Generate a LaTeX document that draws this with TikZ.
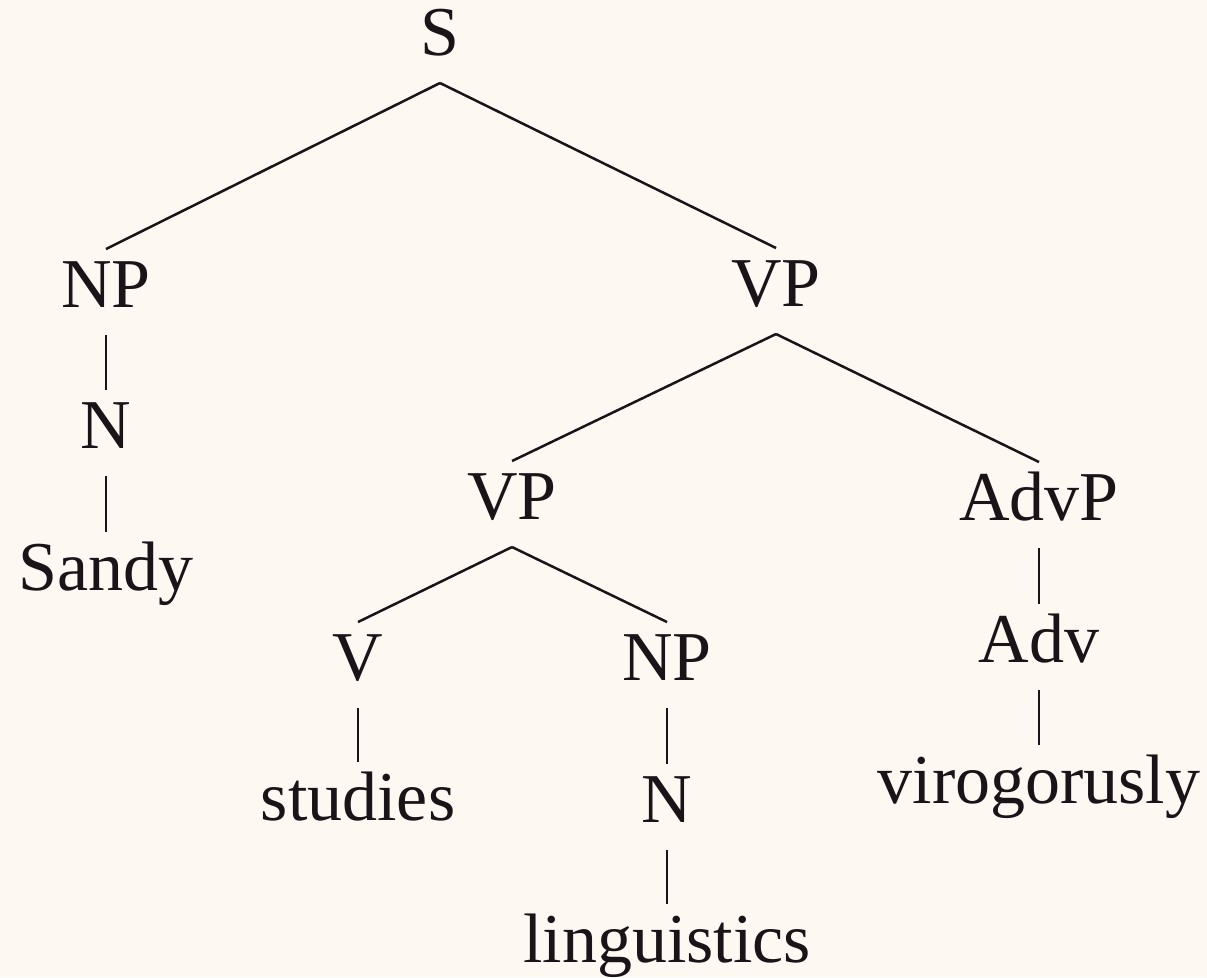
\documentclass[tikz,border=0pt]{standalone}
\IfFileExists{pplr8t.tfm}{%
  \usepackage[T1]{fontenc}
  \renewcommand{\rmdefault}{ppl}
  \newcommand{\catsize}{\fontsize{13}{15}\selectfont}
}{%
  \usepackage{fontspec}
  \setmainfont{Liberation Serif}
  \newcommand{\catsize}{\fontsize{14}{16}\selectfont}
}
\definecolor{paper}{RGB}{253,248,242}
\definecolor{ink}{RGB}{26,20,24}
\begin{document}
\begin{tikzpicture}[x=0.2pt,y=-0.2pt,
    cat/.style={anchor=base,inner sep=0pt,text height=11.4pt,text depth=5.4pt,
      font=\catsize,text=ink},
    branch/.style={draw=ink,line width=0.5pt}]
    \fill[paper] (0,0) rectangle (1207,977);
    \useasboundingbox (0,0) rectangle (1207,977);
    % top level
    \node[cat] (s) at (440,55) {S};
    \node[cat] (np) at (106,307) {NP};
    \node[cat] (vp) at (776,306) {VP};
    \draw[branch] (s.south) -- (np.north);
    \draw[branch] (s.south) -- (vp.north);
    % subject
    \node[cat] (n) at (106,448) {N};
    \node[cat] (sandy) at (106,590) {Sandy};
    \draw[branch] (np.south) -- (n.north);
    \draw[branch] (n.south) -- (sandy.north);
    % predicate
    \node[cat] (vpa) at (512,519) {VP};
    \node[cat] (advp) at (1039,520) {AdvP};
    \draw[branch] (vp.south) -- (vpa.north);
    \draw[branch] (vp.south) -- (advp.north);
    \node[cat] (v) at (358,680) {V};
    \node[cat] (npb) at (667,680) {NP};
    \draw[branch] (vpa.south) -- (v.north);
    \draw[branch] (vpa.south) -- (npb.north);
    \node[cat] (studies) at (358,820) {studies};
    \draw[branch] (v.south) -- (studies.north);
    \node[cat] (nb) at (667,822) {N};
    \node[cat] (ling) at (667,962) {linguistics};
    \draw[branch] (npb.south) -- (nb.north);
    \draw[branch] (nb.south) -- (ling.north);
    % adverb
    \node[cat] (adv) at (1039,662) {Adv};
    \node[cat] (virog) at (1039,803) {virogorusly};
    \draw[branch] (advp.south) -- (adv.north);
    \draw[branch] (adv.south) -- (virog.north);
  \end{tikzpicture}
\end{document}
